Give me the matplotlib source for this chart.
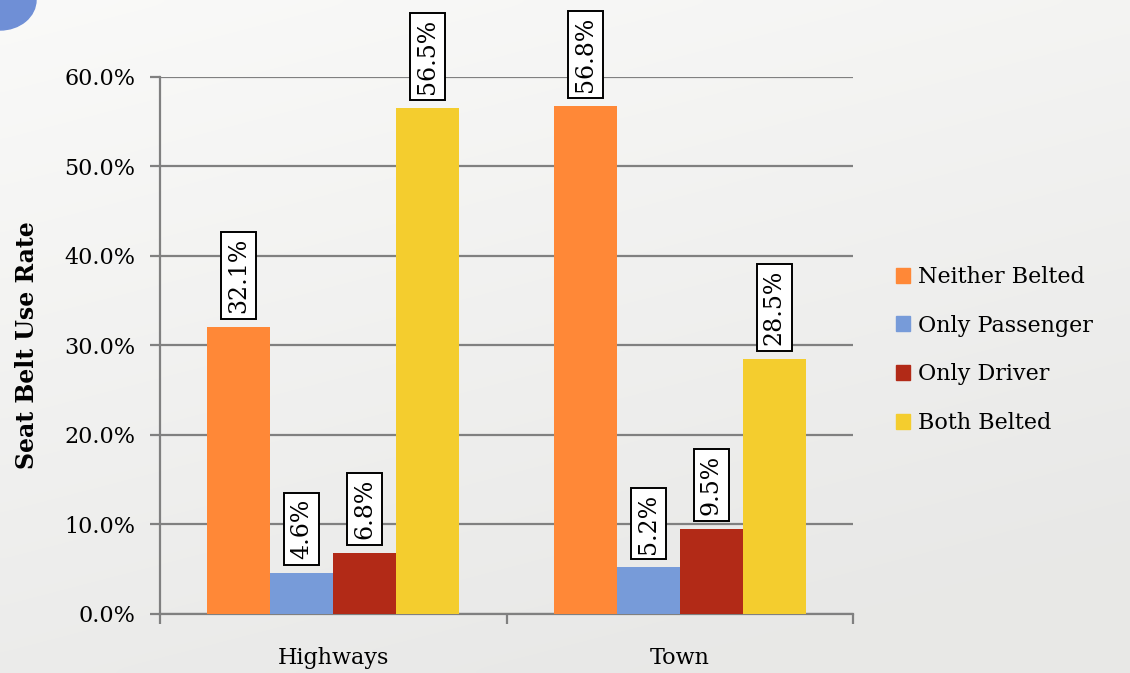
"""
Seat belt use rate by road type, grouped bars with boxed value labels.
"""
import numpy as np
import matplotlib.pyplot as plt
from matplotlib.patches import Patch, Ellipse
from matplotlib.ticker import PercentFormatter, FixedLocator, NullFormatter

# data
categories = ["Highways", "Town"]
series_names = ["Neither Belted", "Only Passenger", "Only Driver", "Both Belted"]
neither_belted = [32.1, 56.8]
only_passenger = [4.6, 5.2]
only_driver = [6.8, 9.5]
both_belted = [56.5, 28.5]
colors = ["#FF8837", "#779BD9", "#B22A17", "#F4CD2E"]

plt.rcParams['font.family'] = ['DejaVu Serif']

fig = plt.figure(figsize=(11.3, 6.73), dpi=100, facecolor="#eeeeee")

# slide background: soft grey gradient, lighter at top-left
bg = fig.add_axes([0, 0, 1, 1], zorder=-10)
gy, gx = np.mgrid[0:1:100j, 0:1:160j]
shade = 0.98 - 0.07 * np.clip(0.35 * gx + 0.8 * gy, 0, 1)
bg.imshow(np.dstack([shade, shade, shade * 0.995]), aspect="auto", extent=(0, 1, 0, 1),
          origin="upper", interpolation="bicubic")
bg.add_patch(Ellipse((0, 1), 2 * 36 / 1130, 2 * 30 / 673, color="#6f8fd6"))
bg.set_xlim(0, 1)
bg.set_ylim(0, 1)
bg.axis("off")

ax = fig.add_axes([0.1416, 0.0877, 0.6133, 0.7979])
ax.set_facecolor("none")

x = np.arange(len(categories))
width = 0.182
values = [neither_belted, only_passenger, only_driver, both_belted]
for i, (name, vals, col) in enumerate(zip(series_names, values, colors)):
    pos = x + (i - 1.5) * width
    ax.bar(pos, vals, width=width, color=col, label=name, zorder=3)
    for px, v in zip(pos, vals):
        ax.annotate(f"{v:.1f}%", (px, v), xytext=(0, 10), textcoords="offset points",
                    rotation=90, ha="center", va="bottom", fontsize=17,
                    bbox=dict(boxstyle="square,pad=0.25", fc="white", ec="black", lw=1.4),
                    zorder=5, annotation_clip=False)

ax.set_ylim(0, 60)
ax.set_xlim(-0.5, 1.5)
ax.yaxis.set_major_locator(FixedLocator(np.arange(0, 61, 10)))
ax.yaxis.set_major_formatter(PercentFormatter(decimals=1))
ax.grid(axis="y", color="#808080", lw=1.6, zorder=0)
ax.set_axisbelow(True)

ax.xaxis.set_major_locator(FixedLocator([-0.5, 0.5, 1.5]))
ax.xaxis.set_major_formatter(NullFormatter())
ax.xaxis.set_minor_locator(FixedLocator(x))
ax.set_xticklabels(categories, minor=True)
ax.tick_params(axis="x", which="minor", length=0, labelsize=16, pad=24)
ax.tick_params(axis="x", which="major", length=7, width=1.6, color="#808080")
ax.tick_params(axis="y", length=7, width=1.6, color="#808080", labelsize=16, pad=11)

for s in ["top", "right"]:
    ax.spines[s].set_visible(False)
for s in ["left", "bottom"]:
    ax.spines[s].set_color("#808080")
    ax.spines[s].set_linewidth(1.6)

ax.set_ylabel("Seat Belt Use Rate", fontsize=17, fontweight="bold", labelpad=18)

handles = [Patch(color=c, label=n) for c, n in zip(colors, series_names)]
fig.legend(handles=handles, loc="center left", bbox_to_anchor=(0.775, 0.48),
           frameon=False, fontsize=16, handlelength=0.65, handleheight=0.65,
           handletextpad=0.35, labelspacing=1.2)

fig.savefig("out.png", dpi=100, facecolor=fig.get_facecolor())
